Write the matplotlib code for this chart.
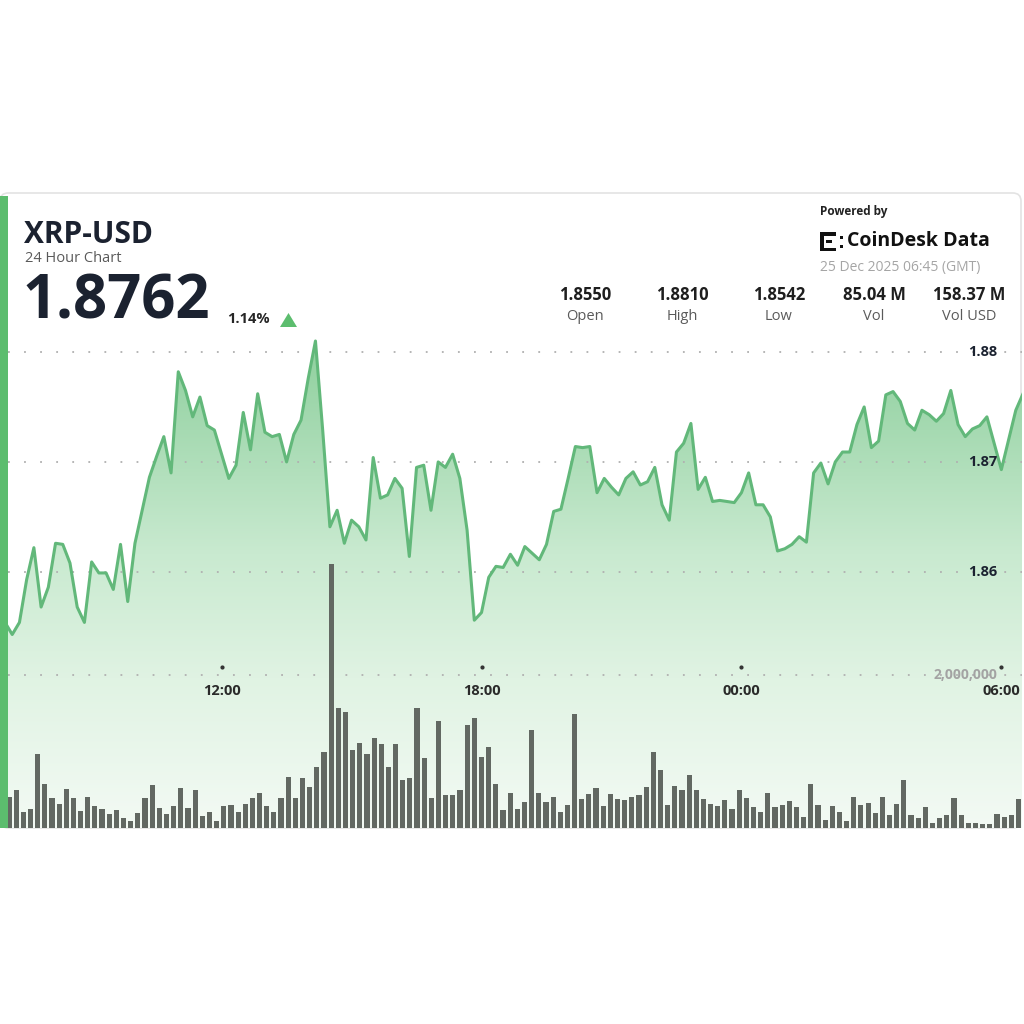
"""XRP-USD 24 hour chart card (CoinDesk style) recreated with matplotlib."""

import matplotlib

matplotlib.use("Agg")

import matplotlib.pyplot as plt
import matplotlib.dates as mdates
import matplotlib.transforms as mtransforms
import numpy as np
import pandas as pd
from matplotlib.colors import LinearSegmentedColormap
from matplotlib.patches import FancyBboxPatch, Polygon, Rectangle

plt.rcParams["font.family"] = ["Open Sans", "DejaVu Sans"]

# ---- data ------------------------------------------------------------------
prices = [
    1.8554, 1.8543, 1.8554, 1.8593, 1.8622, 1.8568, 1.8586, 1.8626, 1.8625, 1.8608,
    1.8568, 1.8554, 1.8609, 1.8599, 1.8599, 1.8584, 1.8625, 1.8573, 1.8626, 1.8656,
    1.8686, 1.8705, 1.8723, 1.8690, 1.8782, 1.8765, 1.8741, 1.8759, 1.8733, 1.8729,
    1.8707, 1.8685, 1.8697, 1.8745, 1.8711, 1.8762, 1.8727, 1.8723, 1.8725, 1.8700,
    1.8725, 1.8738, 1.8776, 1.8810, 1.8729, 1.8641, 1.8656, 1.8626, 1.8647, 1.8641,
    1.8629, 1.8704, 1.8667, 1.8670, 1.8685, 1.8676, 1.8614, 1.8695, 1.8697, 1.8656,
    1.8700, 1.8695, 1.8707, 1.8685, 1.8638, 1.8556, 1.8563, 1.8595, 1.8605, 1.8604,
    1.8616, 1.8606, 1.8623, 1.8617, 1.8611, 1.8625, 1.8655, 1.8657, 1.8685, 1.8714,
    1.8713, 1.8714, 1.8672, 1.8685, 1.8677, 1.8670, 1.8685, 1.8691, 1.8679, 1.8682,
    1.8695, 1.8661, 1.8647, 1.8709, 1.8717, 1.8735, 1.8675, 1.8686, 1.8664, 1.8665,
    1.8664, 1.8663, 1.8672, 1.8690, 1.8661, 1.8661, 1.8650, 1.8619, 1.8621, 1.8625,
    1.8632, 1.8627, 1.8690, 1.8699, 1.8680, 1.8700, 1.8709, 1.8709, 1.8734, 1.8750,
    1.8713, 1.8719, 1.8761, 1.8764, 1.8755, 1.8735, 1.8729, 1.8747, 1.8743, 1.8737,
    1.8744, 1.8765, 1.8734, 1.8723, 1.8730, 1.8733, 1.8741, 1.8717, 1.8693, 1.8720,
    1.8747, 1.8762,
]

volumes = [
    405e3, 497e3, 209e3, 248e3, 967e3, 575e3, 392e3, 314e3, 510e3, 392e3,
    222e3, 405e3, 288e3, 248e3, 183e3, 235e3, 131e3, 92e3, 196e3, 392e3,
    562e3, 261e3, 183e3, 288e3, 523e3, 261e3, 497e3, 157e3, 209e3, 92e3,
    288e3, 301e3, 209e3, 314e3, 392e3, 458e3, 288e3, 209e3, 392e3, 667e3,
    392e3, 654e3, 536e3, 797e3, 993e3, 3.45e6, 1.57e6, 1.52e6, 1.02e6, 1.11e6,
    967e3, 1.18e6, 1.10e6, 797e3, 1.10e6, 627e3, 654e3, 1.57e6, 915e3, 392e3,
    1.40e6, 431e3, 431e3, 497e3, 1.35e6, 1.44e6, 928e3, 1.06e6, 575e3, 235e3,
    458e3, 248e3, 340e3, 1.28e6, 458e3, 340e3, 405e3, 209e3, 301e3, 1.49e6,
    379e3, 444e3, 523e3, 288e3, 444e3, 379e3, 366e3, 405e3, 431e3, 536e3,
    993e3, 758e3, 301e3, 549e3, 497e3, 693e3, 497e3, 379e3, 314e3, 288e3,
    366e3, 248e3, 497e3, 392e3, 275e3, 209e3, 458e3, 275e3, 301e3, 353e3,
    275e3, 144e3, 575e3, 301e3, 105e3, 288e3, 209e3, 92e3, 405e3, 301e3,
    327e3, 196e3, 405e3, 170e3, 314e3, 627e3, 170e3, 131e3, 275e3, 65e3,
    131e3, 170e3, 392e3, 170e3, 65e3, 65e3, 52e3, 52e3, 183e3, 144e3,
    170e3, 379e3,
]

stat_values = ["1.8550", "1.8810", "1.8542", "85.04 M", "158.37 M"]
stat_labels = ["Open", "High", "Low", "Vol", "Vol USD"]
change_pct = "1.14%"
price_ticks = [1.86, 1.87, 1.88]
volume_ticks = [2_000_000]
time_ticks = ["2025-12-24 12:00", "2025-12-24 18:00", "2025-12-25 00:00", "2025-12-25 06:00"]
stamp = "25 Dec 2025 06:45 (GMT)"

times = pd.date_range("2025-12-24 07:00", periods=len(prices), freq="10min")
vol_times = pd.date_range("2025-12-24 07:00", periods=len(volumes), freq="10min")

# ---- layout helpers (reference pixel coords, y measured from top) -------------
W = 1024.0


def fx(x):
    return x / W


def fy(y):
    return 1 - y / W


GREEN = "#5cbd6e"
LINE = "#62b87a"
DARK = "#1b2230"
GREY = "#5a5a5a"

fig = plt.figure(figsize=(10.24, 10.24), dpi=100)
fig.patch.set_facecolor("white")

# card + green strip
card = FancyBboxPatch((fx(0), fy(828)), fx(1021), (828 - 193) / W,
                      boxstyle="round,pad=0,rounding_size=0.008",
                      transform=fig.transFigure, fc="white", ec="#e3e3e3", lw=1.2, zorder=0)
fig.patches.append(card)
fig.patches.append(Rectangle((fx(0), fy(828)), fx(8), (828 - 196) / W,
                             transform=fig.transFigure, fc=GREEN, ec="none", zorder=5))

rect = [fx(8), fy(828), fx(1022 - 8), (828 - 330) / W]
dt = pd.Timedelta("10min")

# ---- price axes ---------------------------------------------------------------
ax = fig.add_axes(rect, zorder=1)
ax.patch.set_alpha(0)
ymin, ymax = 1.8367, 1.8820
ax.set_ylim(ymin, ymax)
x0 = times[0] + 0.415 * dt
x1 = times[-1] - 0.14 * dt
ax.set_xlim(x0, x1)

cmap = LinearSegmentedColormap.from_list(
    "fill", [(0.0, "#f3faf4"), (0.3, "#e0f3e3"), (0.55, "#c9ead0"), (0.8, "#a6dab2"), (1.0, "#8ccf9b")])
grad = np.linspace(1, 0, 256).reshape(-1, 1)
im = ax.imshow(grad, extent=[mdates.date2num(x0), mdates.date2num(x1), ymin, ymax],
               aspect="auto", cmap=cmap, vmin=0, vmax=1, origin="upper", zorder=1)
poly = ax.fill_between(times, prices, ymin, facecolor="none", edgecolor="none")
im.set_clip_path(poly.get_paths()[0], ax.transData)

for p in price_ticks:
    ax.axhline(p, color="#b0b0b0", lw=1.3, linestyle=(0, (1, 7.9)), zorder=2)
ax.plot(times, prices, color=LINE, lw=2.2, solid_joinstyle="round", zorder=4)

ytrans = mtransforms.blended_transform_factory(ax.transAxes, ax.transData)
for p in price_ticks:
    ax.text(0.9755, p, f"{p:.2f}", transform=ytrans, ha="right", va="center",
            fontsize=10.5, fontweight="bold", color=DARK, zorder=6)

xtrans = mtransforms.blended_transform_factory(ax.transData, ax.transAxes)
tick_t = pd.to_datetime(time_ticks)
label_y = (828 - 691) / (828 - 330)
dot_y = (828 - 667) / (828 - 330)
for t in tick_t:
    ax.text(t, label_y, t.strftime("%H:%M"), transform=xtrans, ha="center", va="center",
            fontsize=10.5, fontweight="bold", color="#2a2a2a", zorder=6)
ax.plot(tick_t, [dot_y] * len(tick_t), transform=xtrans, ls="none", marker="o",
        ms=2, color="#333333", zorder=6)

ax.set_axis_off()

# ---- volume axes --------------------------------------------------------------
vax = fig.add_axes(rect, zorder=2)
vax.patch.set_alpha(0)
vax.set_xlim(vol_times[0] - 0.14 * dt, vol_times[0] + 141.5 * dt)
vax.set_ylim(0, 6.51e6)
for v in volume_ticks:
    vax.axhline(v, color="#b0b0b0", lw=1.3, linestyle=(0, (1, 7.9)), zorder=1)
    vax.text(0.9755, v, f"{v:,}", transform=mtransforms.blended_transform_factory(vax.transAxes, vax.transData),
             ha="right", va="center", fontsize=10, fontweight="bold", color="#a3a3a3", zorder=3)
vax.bar(vol_times, volumes, width=0.72 / 144, color="#626862", edgecolor="none", zorder=2)
vax.set_axis_off()

# ---- header -----------------------------------------------------------------
fig.text(fx(24), fy(235), "XRP-USD", fontsize=21.5, fontweight="bold", color=DARK, va="center")
fig.text(fx(25), fy(258), "24 Hour Chart", fontsize=10.5, color=GREY, va="center")
fig.text(fx(23), fy(303), f"{prices[-1]:.4f}", fontsize=43, fontweight="bold", color=DARK, va="center")
fig.text(fx(227), fy(319), change_pct, fontsize=10.5, fontweight="bold", color="#262626", va="center")
fig.patches.append(Polygon([(fx(280), fy(327)), (fx(297), fy(327)), (fx(288.5), fy(313))],
                           closed=True, transform=fig.transFigure, fc=GREEN, ec="none"))

stat_x = [585, 682, 779, 874, 969]
for x, val, lab in zip(stat_x, stat_values, stat_labels):
    fig.text(fx(x), fy(295), val, fontsize=12, fontweight="bold", color="#1e1e1e", ha="center", va="center")
    fig.text(fx(x), fy(317), lab, fontsize=10.5, color=GREY, ha="center", va="center")

fig.text(fx(820), fy(211), "Powered by", fontsize=8.5, fontweight="bold", color="#222222", va="center")
fig.text(fx(847), fy(241), "CoinDesk Data", fontsize=14, fontweight="bold", color="#111111", va="center")
fig.text(fx(820), fy(268), stamp, fontsize=10, color="#a5a5a5", va="center")

# CoinDesk bracket glyph
for (x, y, w, h) in [(820, 232, 3.5, 19), (820, 232, 16, 3.5), (820, 247.5, 16, 3.5),
                     (826, 239.5, 6, 3), (840, 236, 3, 3), (840, 245, 3, 3)]:
    fig.patches.append(Rectangle((fx(x), fy(y + h)), w / W, h / W, transform=fig.transFigure,
                                 fc="#111111", ec="none"))

fig.savefig("out.png", dpi=100, facecolor="white")
